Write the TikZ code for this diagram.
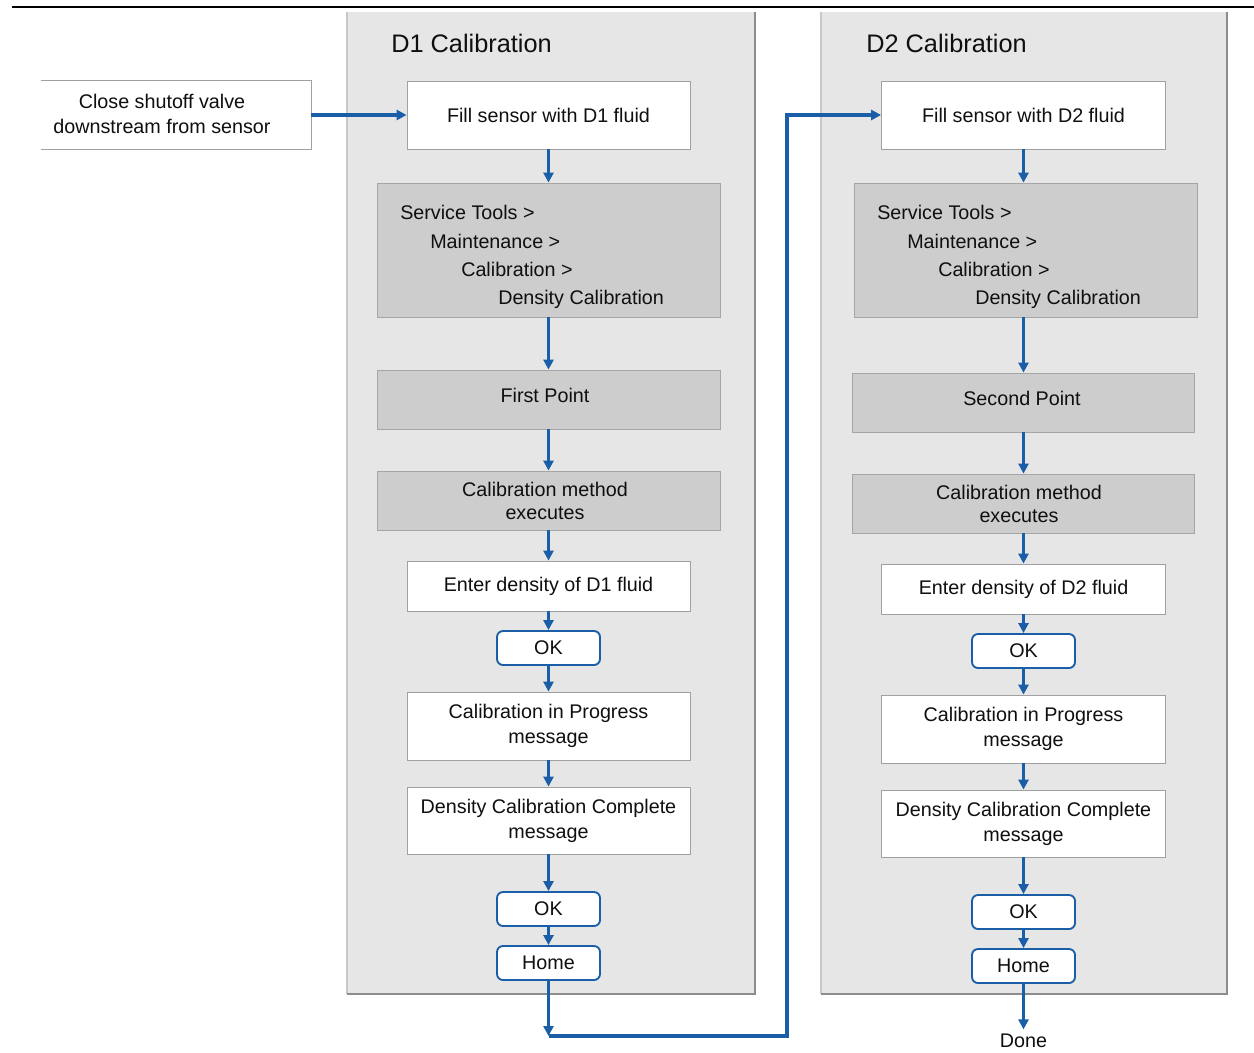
\documentclass[tikz,border=0pt]{standalone}
\usepackage{fontspec}
\setmainfont{Liberation Sans}
\usetikzlibrary{arrows.meta}
\definecolor{flowblue}{RGB}{26,94,168}
\definecolor{panelfill}{RGB}{230,230,230}
\definecolor{panelline}{RGB}{200,200,200}
\definecolor{paneldark}{RGB}{140,140,140}
\definecolor{grayfill}{RGB}{205,205,205}
\definecolor{grayline}{RGB}{165,165,165}
\definecolor{boxline}{RGB}{160,160,160}
\definecolor{txt}{RGB}{15,15,15}
\tikzset{
  every node/.style={text=txt},
  body/.style={font=\fontsize{14.8pt}{18.75pt}\selectfont},
  title/.style={font=\fontsize{19pt}{22pt}\selectfont, anchor=base west, inner sep=0pt},
  wbox/.style={body, draw=boxline, line width=0.6pt, fill=white, align=center, inner sep=0pt},
  gbox/.style={body, draw=grayline, line width=0.6pt, fill=grayfill, align=center, inner sep=0pt},
  okbtn/.style={body, draw=flowblue, line width=1.4pt, fill=white, rounded corners=4.5pt, inner sep=0pt,
    minimum width=103*0.75pt, minimum height=34*0.75pt},
  arr/.style={draw=flowblue, line width=2.3pt, -{Triangle[length=7.5pt,width=7.5pt]}},
  seg/.style={draw=flowblue, line width=2.3pt, line join=miter},
  menu/.style={body, anchor=base west, inner sep=0pt},
}
\begin{document}
\begin{tikzpicture}[x=0.75pt,y=-0.75pt]
\useasboundingbox (0,0) rectangle (1254,1053);
% top rule
\draw[line width=1.5pt, black] (12,7) -- (1254,7);

% panels
\fill[panelfill] (347,12) rectangle (755,994);
\draw[panelline, line width=0.8pt] (347,12) -- (347,994);
\draw[paneldark, line width=0.9pt] (755,12) -- (755,994) -- (347,994);
\fill[panelfill] (821,12) rectangle (1227,994);
\draw[panelline, line width=0.8pt] (821,12) -- (821,994);
\draw[paneldark, line width=0.9pt] (1227,12) -- (1227,994) -- (821,994);

\node[title] (t1) at (391,52) {D1 Calibration};
\node[title] (t2) at (866,52) {D2 Calibration};

% left box
\node[fill=white, inner sep=0pt, minimum width=270*0.75pt, minimum height=68*0.75pt] (close) at (176,115) {};
\draw[boxline, line width=0.6pt] (close.north west) -- (close.north east) -- (close.south east) -- (close.south west);
\node[body, align=center] (closetxt) at (162,113.5) {Close shutoff valve\\downstream from sensor};

% ---------- panel 1 ----------
\node[wbox, minimum width=283*0.75pt, minimum height=68*0.75pt] (fill1) at (548.5,115) {Fill sensor with D1 fluid};
\node[gbox, minimum width=343*0.75pt, minimum height=134*0.75pt] (st1) at (548.5,250) {};
\node[menu] (st1a) at (400,219) {Service Tools >};
\node[menu] (st1b) at (430,248) {Maintenance >};
\node[menu] (st1c) at (461,276) {Calibration >};
\node[menu] (st1d) at (498,304) {Density Calibration};
\node[gbox, minimum width=343*0.75pt, minimum height=59*0.75pt] (fp1) at (548.5,399.5) {};
\node[body] (fp1t) at (545,395) {First Point};
\node[gbox, minimum width=343*0.75pt, minimum height=59*0.75pt] (cm1) at (548.5,500.5) {};
\node[body, align=center, font=\fontsize{14.8pt}{17.25pt}\selectfont] (cm1t) at (545,501) {Calibration method\\executes};
\node[wbox, minimum width=283*0.75pt, minimum height=50*0.75pt] (ed1) at (548.5,586) {Enter density of D1 fluid};
\node[okbtn] (ok1a) at (548.5,648) {OK};
\node[wbox, minimum width=283*0.75pt, minimum height=68*0.75pt] (cp1) at (548.5,726) {Calibration in Progress\\message};
\node[wbox, minimum width=283*0.75pt, minimum height=67*0.75pt] (dc1) at (548.5,820.5) {Density Calibration Complete\\message};
\node[okbtn] (ok1b) at (548.5,909) {OK};
\node[okbtn] (home1) at (548.5,963) {Home};

% ---------- panel 2 ----------
\node[wbox, minimum width=284*0.75pt, minimum height=68*0.75pt] (fill2) at (1023.5,115) {Fill sensor with D2 fluid};
\node[gbox, minimum width=343*0.75pt, minimum height=134*0.75pt] (st2) at (1025.5,250) {};
\node[menu] (st2a) at (877,219) {Service Tools >};
\node[menu] (st2b) at (907,248) {Maintenance >};
\node[menu] (st2c) at (938,276) {Calibration >};
\node[menu] (st2d) at (975,304) {Density Calibration};
\node[gbox, minimum width=342*0.75pt, minimum height=59*0.75pt] (sp2) at (1023,402.5) {};
\node[body] (sp2t) at (1022,398) {Second Point};
\node[gbox, minimum width=342*0.75pt, minimum height=59*0.75pt] (cm2) at (1023,503.5) {};
\node[body, align=center, font=\fontsize{14.8pt}{17.25pt}\selectfont] (cm2t) at (1019,504) {Calibration method\\executes};
\node[wbox, minimum width=284*0.75pt, minimum height=50*0.75pt] (ed2) at (1023.5,589) {Enter density of D2 fluid};
\node[okbtn] (ok2a) at (1023.5,651) {OK};
\node[wbox, minimum width=284*0.75pt, minimum height=68*0.75pt] (cp2) at (1023.5,729) {Calibration in Progress\\message};
\node[wbox, minimum width=284*0.75pt, minimum height=67*0.75pt] (dc2) at (1023.5,823.5) {Density Calibration Complete\\message};
\node[okbtn] (ok2b) at (1023.5,912) {OK};
\node[okbtn] (home2) at (1023.5,966) {Home};
\node[body] (done) at (1023.5,1041) {Done};

% ---------- connectors ----------
\draw[arr] (close.east) -- (fill1.west);
\draw[arr] (fill1.south) -- (fill1.south |- st1.north);
\draw[arr] (st1.south -| fill1.south) -- (fill1.south |- fp1.north);
\draw[arr] (fp1.south) -- (cm1.north);
\draw[arr] (cm1.south) -- (ed1.north);
\draw[arr] (ed1.south) -- (ok1a.north);
\draw[arr] (ok1a.south) -- (cp1.north);
\draw[arr] (cp1.south) -- (dc1.north);
\draw[arr] (dc1.south) -- (ok1b.north);
\draw[arr] (ok1b.south) -- (home1.north);
\coordinate (c1) at (548.5,1036);
\coordinate (c2) at (787,1036);
\coordinate (c3) at (787,115);
\draw[arr] (home1.south) -- (c1);
\draw[seg, -{Triangle[length=7.5pt,width=7.5pt]}] (c1) -- (c2) -- (c3) -- (fill2.west);

\draw[arr] (fill2.south) -- (fill2.south |- st2.north);
\draw[arr] (st2.south -| fill2.south) -- (fill2.south |- sp2.north);
\draw[arr] (sp2.south -| fill2.south) -- (fill2.south |- cm2.north);
\draw[arr] (cm2.south -| ed2.north) -- (ed2.north);
\draw[arr] (ed2.south) -- (ok2a.north);
\draw[arr] (ok2a.south) -- (cp2.north);
\draw[arr] (cp2.south) -- (dc2.north);
\draw[arr] (dc2.south) -- (ok2b.north);
\draw[arr] (ok2b.south) -- (home2.north);
\draw[arr] (home2.south) -- (done.north);
\end{tikzpicture}
\end{document}
